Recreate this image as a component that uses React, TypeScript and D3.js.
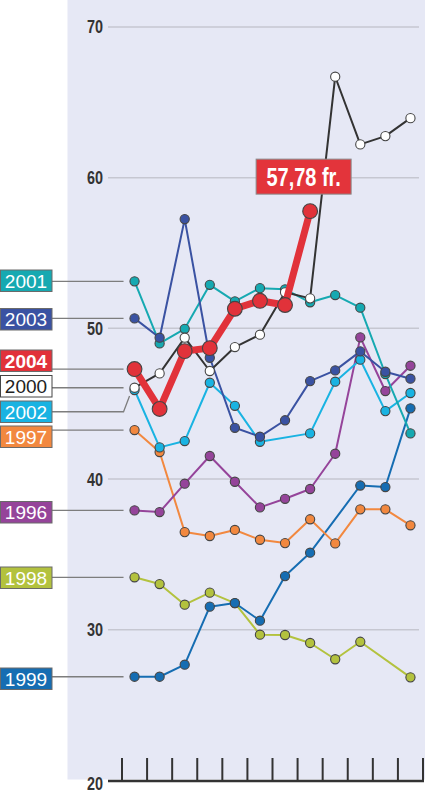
import * as d3 from "d3";

// months on the x axis (no labels drawn in the original)
const months = ["jan", "feb", "mar", "apr", "mai", "jun", "jul", "aug", "sep", "okt", "nov", "des"];

const yTicks = [20, 30, 40, 50, 60, 70];

// price per month, null = no reading
const s2001 = [53.12, 49.0, 49.97, 52.89, 51.79, 52.67, 52.59, 51.73, 52.21, 51.37, 46.97, 43.03];
const s2003 = [50.66, 49.38, 57.25, 48.05, 43.4, 42.81, 43.9, 46.5, 47.21, 48.47, 47.12, 46.66];
const s2004 = [47.3, 44.65, 48.49, 48.69, 51.3, 51.83, 51.55, 57.78, null, null, null, null];
const s2000 = [46.06, 47.01, 49.38, 47.17, 48.76, 49.58, 52.39, 51.99, 66.7, 62.21, 62.76, 63.95];
const s2002 = [45.91, 42.1, 42.52, 46.39, 44.86, 42.47, null, 43.03, 46.46, 47.92, 44.51, 45.71];
const s1997 = [43.25, 41.79, 36.48, 36.22, 36.62, 35.97, 35.75, 37.33, 35.73, 37.99, 37.99, 36.93];
const s1996 = [37.92, 37.81, 39.69, 41.53, 39.82, 38.12, 38.69, 39.34, 41.68, 49.4, 45.84, 47.52];
const s1998 = [33.48, 33.03, 31.66, 32.46, 31.77, 29.67, 29.65, 29.12, 28.04, 29.2, null, 26.84];
const s1999 = [26.88, 26.88, 27.68, 31.53, 31.77, 30.6, 33.56, 35.11, null, 39.57, 39.47, 44.69];

const valueLabel = "57,78 fr.";

type Series = {
  year: string;
  values: (number | null)[];
  color: string;
  dot: string;
  text: string;
  boxTop: number; // legend box position
  bold?: boolean;
  width: number;
  r: number;
};

// legend order, top to bottom
const legend: Series[] = [
  { year: "2001", values: s2001, color: "#16a9b1", dot: "#16a9b1", text: "#fff", boxTop: 270, width: 2, r: 4.6 },
  { year: "2003", values: s2003, color: "#3a52a2", dot: "#3a52a2", text: "#fff", boxTop: 308.5, width: 2, r: 4.6 },
  { year: "2004", values: s2004, color: "#e1323a", dot: "#e1323a", text: "#fff", boxTop: 350, bold: true, width: 7, r: 7.4 },
  { year: "2000", values: s2000, color: "#333333", dot: "#ffffff", text: "#222", boxTop: 375.5, width: 2, r: 4.6 },
  { year: "2002", values: s2002, color: "#19b3e2", dot: "#19b3e2", text: "#fff", boxTop: 401, width: 2, r: 4.6 },
  { year: "1997", values: s1997, color: "#f2883f", dot: "#f2883f", text: "#fff", boxTop: 426, width: 2, r: 4.6 },
  { year: "1996", values: s1996, color: "#95449a", dot: "#95449a", text: "#fff", boxTop: 501.5, width: 2, r: 4.6 },
  { year: "1998", values: s1998, color: "#b3c23e", dot: "#b3c23e", text: "#fff", boxTop: 567, width: 2, r: 4.6 },
  { year: "1999", values: s1999, color: "#166db2", dot: "#166db2", text: "#fff", boxTop: 668, width: 2, r: 4.6 },
];

// draw order, bottom to top
const drawOrder = ["1998", "1999", "1997", "1996", "2002", "2001", "2003", "2000", "2004"];

const W = 425;
const H = 794;
const sans = "'Liberation Sans', Arial, sans-serif";

// condensed bold text: no narrow face installed, so squeeze Liberation Sans
function Narrow(props: { x: number; y: number; size: number; anchor: string; fill: string; children: string }) {
  return (
    <text
      transform={`translate(${props.x},${props.y}) scale(0.8,1)`}
      dy="0.36em"
      textAnchor={props.anchor}
      fontFamily={sans}
      fontWeight="bold"
      fontSize={props.size}
      fill={props.fill}
    >
      {props.children}
    </text>
  );
}

export default function App() {
  const x = d3.scaleBand<string>().domain(months).range([122, 423]);
  const y = d3.scaleLinear().domain([20, 70]).range([780.4, 27]);
  const cx = (m: string) => (x(m) ?? 0) + x.bandwidth() / 2;

  const line = d3
    .line<{ m: string; v: number }>()
    .x((d) => cx(d.m))
    .y((d) => y(d.v));

  const pts = (s: Series) =>
    s.values
      .map((v, i) => ({ m: months[i], v }))
      .filter((d): d is { m: string; v: number } => d.v !== null);

  const edges = months.map((m) => x(m) ?? 0).concat([x.range()[1]]);
  const byYear = new Map(legend.map((s) => [s.year, s]));

  const last2004 = pts(byYear.get("2004")!).slice(-1)[0];
  const lx = cx(last2004.m);
  const ly = y(last2004.v);

  return (
    <>
      <style>{"body{margin:0}"}</style>
      <svg width={W} height={H} style={{ display: "block" }}>
        <rect x={0} y={0} width={W} height={H} fill="#fff" />
        <rect x={67.5} y={0} width={W - 67.5} height={779.5} fill="#e6e8f5" />

        {/* grid + y labels */}
        {yTicks.map((t) => (
          <g key={t}>
            {t > 20 && (
              <line x1={108} x2={419} y1={y(t)} y2={y(t)} stroke="#c6c7d1" strokeWidth={1.5} />
            )}
            <Narrow x={103} y={t > 20 ? y(t) : y(t) + 3} size={18} anchor="end" fill="#333">
              {String(t)}
            </Narrow>
          </g>
        ))}

        {/* bottom axis */}
        <line x1={108} x2={424} y1={781} y2={781} stroke="#333" strokeWidth={2.5} />
        {edges.map((e, i) => (
          <line key={i} x1={e} x2={e} y1={758} y2={781} stroke="#333" strokeWidth={2} />
        ))}

        {/* legend boxes and leaders */}
        {legend.map((s) => {
          const first = pts(s)[0];
          const py = y(first.v);
          const bx = 52;
          const boxMid = s.boxTop + 10.75;
          const leader =
            s.year === "2002"
              ? `M${bx},${boxMid}H${cx(first.m) - 11}L${cx(first.m) - 5},${py + 6}`
              : `M${bx},${py}H${cx(first.m) - 11}`;
          return (
            <g key={s.year}>
              <path d={leader} fill="none" stroke="#7d7d7d" strokeWidth={1.3} />
              <rect
                x={0.5}
                y={s.boxTop}
                width={51.5}
                height={21.5}
                fill={s.year === "2000" ? "#fff" : s.color}
                stroke={s.year === "2000" ? "#444" : "#6a6a6a"}
                strokeWidth={1}
              />
              <text
                x={26}
                y={boxMid}
                dy="0.36em"
                textAnchor="middle"
                fontFamily={sans}
                fontWeight={s.bold ? "bold" : "normal"}
                fontSize={19}
                fill={s.text}
              >
                {s.year}
              </text>
            </g>
          );
        })}

        {/* series */}
        {drawOrder.map((yr) => {
          const s = byYear.get(yr)!;
          const p = pts(s);
          return (
            <g key={yr}>
              <path d={line(p) ?? ""} fill="none" stroke={s.color} strokeWidth={s.width} strokeLinejoin="round" />
              {p.map((d) => (
                <circle key={d.m} cx={cx(d.m)} cy={y(d.v)} r={s.r} fill={s.dot} stroke="#454545" strokeWidth={1.1} />
              ))}
            </g>
          );
        })}

        {/* value label */}
        <g>
          <rect x={lx - 54} y={ly - 52} width={95} height={35} fill="#e3343b" stroke="#8a8a8a" strokeWidth={1} />
          <Narrow x={lx - 6.5} y={ly - 34.5} size={25} anchor="middle" fill="#fff">
            {valueLabel}
          </Narrow>
        </g>
      </svg>
    </>
  );
}
